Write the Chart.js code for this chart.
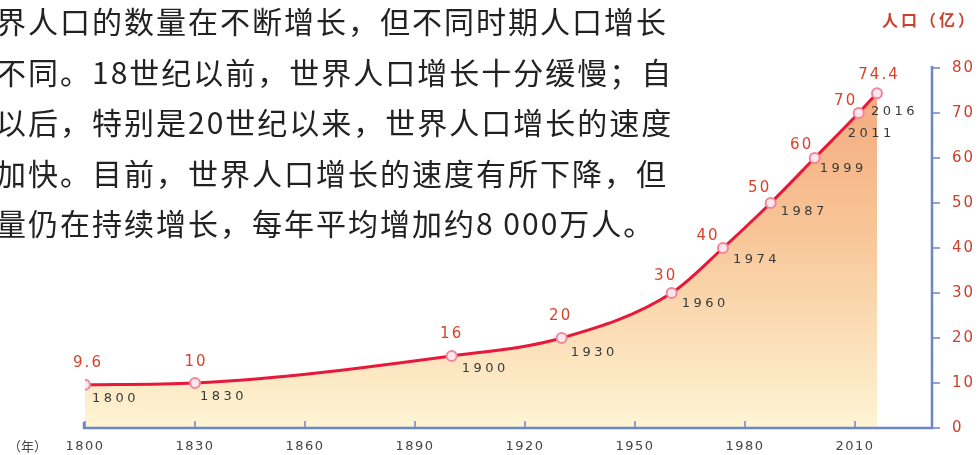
<!DOCTYPE html>
<html>
<head>
<meta charset="utf-8">
<script src="https://cdn.jsdelivr.net/npm/chart.js@4/dist/chart.umd.min.js"></script>
<style>
  body { margin: 0; background: #fff; }
  #wrap { position: relative; width: 980px; height: 455px; overflow: hidden; }
  #chart { position: absolute; left: 0; top: 0; }
  #para {
    position: absolute; left: -4px; top: -5px;
    font-family: "Noto Sans CJK SC", sans-serif; font-size: 30px;
    letter-spacing: 2px; line-height: 50.5px; color: #222; white-space: nowrap;
  }
</style>
</head>
<body>
<div id="wrap">
  <canvas id="chart" width="980" height="455"></canvas>
  <div id="para">界人口的数量在不断增长，但不同时期人口增长<br>不同。18世纪以前，世界人口增长十分缓慢；自<br>以后，特别是20世纪以来，世界人口增长的速度<br>加快。目前，世界人口增长的速度有所下降，但<br>量仍在持续增长，每年平均增加约8 000万人。</div>
</div>
<script>
// population data (亿)
var years = [1800, 1830, 1900, 1930, 1960, 1974, 1987, 1999, 2011, 2016];
var population = [9.6, 10, 16, 20, 30, 40, 50, 60, 70, 74.4];
var valueLabels = ['9.6', '10', '16', '20', '30', '40', '50', '60', '70', '74.4'];
var xTicks = [1800, 1830, 1860, 1890, 1920, 1950, 1980, 2010];
var yTicks = [0, 10, 20, 30, 40, 50, 60, 70, 80];

// label nudges (px) for the value / year text around each point
var valueNudge = [[3, -22], [1, -21], [0, -22], [-1, -22], [-6, -17], [-15, -12], [-11, -15], [-13, -13], [-13, -12], [2, -18]];
var yearNudge = [[7, 14], [5, 14], [10, 13], [9, 15], [10, 11], [10, 12], [10, 9], [5, 11], [-11, 21], [-6, 18]];

var axisBlue = '#6d85c9';

var decorPlugin = {
  id: 'decor',
  afterDraw: function (chart) {
    var ctx = chart.ctx;
    var area = chart.chartArea;
    var xs = chart.scales.x;
    var ys = chart.scales.y;
    ctx.save();

    // axes
    ctx.strokeStyle = axisBlue;
    ctx.lineWidth = 2.5;
    ctx.beginPath();
    ctx.moveTo(area.left - 1, area.bottom - 6);
    ctx.lineTo(area.left - 1, area.bottom);
    ctx.lineTo(area.right, area.bottom);
    ctx.lineTo(area.right, area.top - 2);
    ctx.stroke();

    ctx.lineWidth = 1.5;
    xTicks.forEach(function (v) {
      var x = xs.getPixelForValue(v);
      ctx.beginPath();
      ctx.moveTo(x, area.bottom);
      ctx.lineTo(x, area.bottom - 7);
      ctx.stroke();
    });
    yTicks.forEach(function (v) {
      var y = ys.getPixelForValue(v);
      ctx.beginPath();
      ctx.moveTo(area.right, y);
      ctx.lineTo(area.right + 8, y);
      ctx.stroke();
    });

    // x tick labels
    ctx.fillStyle = '#444';
    ctx.font = '13px "DejaVu Sans"';
    ctx.letterSpacing = '1.5px';
    ctx.textAlign = 'center';
    ctx.textBaseline = 'middle';
    xTicks.forEach(function (v) {
      ctx.fillText(String(v), xs.getPixelForValue(v), 447);
    });
    ctx.letterSpacing = '0px';
    ctx.font = '13px "Noto Sans CJK SC"';
    ctx.textAlign = 'left';
    ctx.fillText('（年）', 8, 446);

    // y tick labels
    ctx.fillStyle = '#c8402e';
    ctx.font = '15px "DejaVu Sans"';
    ctx.letterSpacing = '2px';
    yTicks.forEach(function (v) {
      ctx.fillText(String(v), area.right + 20, ys.getPixelForValue(v));
    });

    // unit title
    ctx.font = 'bold 16px "Noto Sans CJK SC"';
    ctx.letterSpacing = '3px';
    ctx.fillText('人口（亿）', 882, 20);

    // point labels
    var meta = chart.getDatasetMeta(0);
    meta.data.forEach(function (pt, i) {
      ctx.textAlign = 'center';
      ctx.fillStyle = '#d8432c';
      ctx.font = '15px "DejaVu Sans"';
      ctx.letterSpacing = '2px';
      ctx.fillText(valueLabels[i], pt.x + valueNudge[i][0], pt.y + valueNudge[i][1]);
      ctx.textAlign = 'left';
      ctx.fillStyle = '#3a3a3a';
      ctx.font = '13px "DejaVu Sans"';
      ctx.letterSpacing = '3.5px';
      ctx.fillText(String(years[i]), pt.x + yearNudge[i][0], pt.y + yearNudge[i][1]);
    });

    ctx.restore();
  }
};

var ctx = document.getElementById('chart');
new Chart(ctx, {
  type: 'line',
  data: {
    datasets: [{
      data: years.map(function (y, i) { return { x: y, y: population[i] }; }),
      borderColor: '#e8183a',
      borderWidth: 3,
      cubicInterpolationMode: 'monotone',
      fill: 'origin',
      backgroundColor: function (c) {
        var a = c.chart.chartArea;
        if (!a) return 'rgba(0,0,0,0)';
        var g = c.chart.ctx.createLinearGradient(0, a.top, 0, a.bottom);
        g.addColorStop(0, '#f3a67a');
        g.addColorStop(0.45, '#f8c597');
        g.addColorStop(1, '#fef5d4');
        return g;
      },
      pointRadius: 5,
      pointBorderWidth: 2,
      pointBorderColor: '#f2849c',
      pointBackgroundColor: '#fde6ec'
    }]
  },
  options: {
    responsive: false,
    animation: false,
    layout: { padding: { left: 85, top: 68, right: 0, bottom: 0 } },
    plugins: { legend: { display: false }, tooltip: { enabled: false } },
    scales: {
      x: {
        type: 'linear', min: 1800, max: 2031,
        afterBuildTicks: function (s) { s.ticks = xTicks.map(function (v) { return { value: v }; }); },
        afterFit: function (s) { s.height = 27; },
        grid: { display: false },
        border: { display: false },
        ticks: { display: false }
      },
      y: {
        position: 'right', min: 0, max: 80,
        afterBuildTicks: function (s) { s.ticks = yTicks.map(function (v) { return { value: v }; }); },
        afterFit: function (s) { s.width = 48; },
        grid: { display: false },
        border: { display: false },
        ticks: { display: false }
      }
    }
  },
  plugins: [decorPlugin]
});
</script>
</body>
</html>
